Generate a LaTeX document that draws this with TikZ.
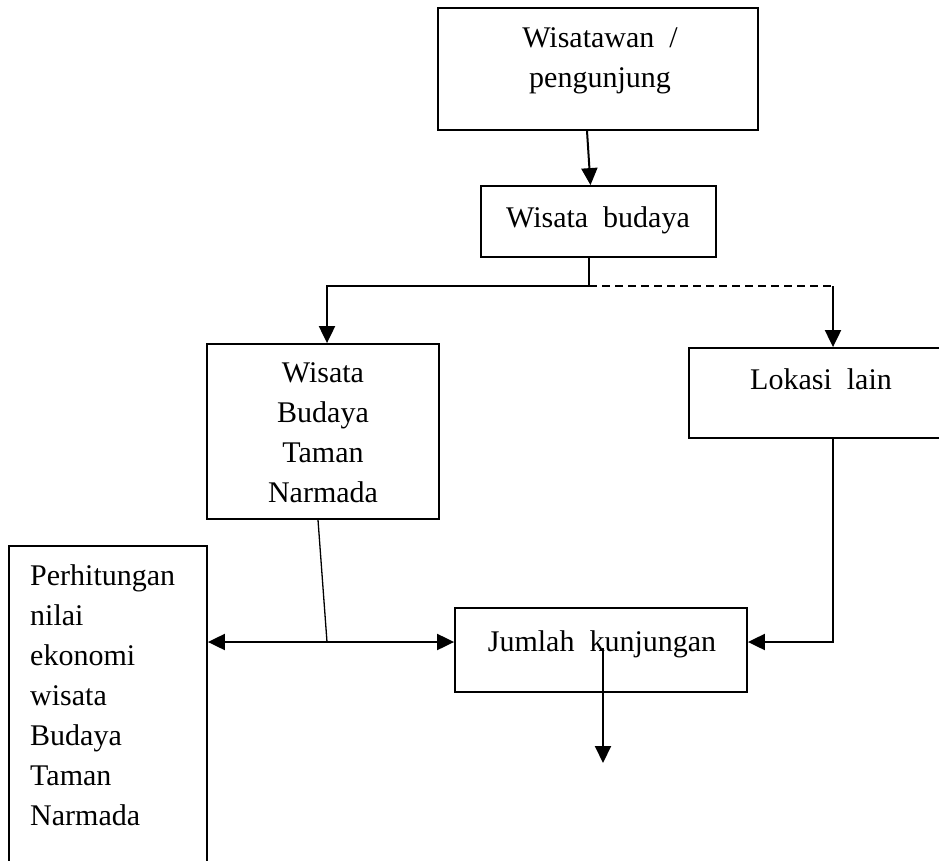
\documentclass[tikz,border=0pt]{standalone}
\usepackage{fontspec}
\setmainfont{Liberation Serif}
\usetikzlibrary{arrows.meta,calc}
\tikzset{
  box/.style={draw, line width=1.8pt, rectangle, inner sep=0pt},
  txt/.style={inner sep=0pt, font=\fontsize{30}{40}\selectfont},
  arr/.style={line width=2pt, -{Triangle[length=17pt,width=16pt]}},
  darr/.style={line width=2pt, {Triangle[length=17pt,width=16pt]}-{Triangle[length=17pt,width=16pt]}},
  plain/.style={line width=2pt},
  thinline/.style={line width=1.3pt},
  dashline/.style={line width=1.6pt, dash pattern=on 8pt off 5pt}
}
\begin{document}
\begin{tikzpicture}[x=1pt,y=-1pt]
\clip (0,0) rectangle (939,861);
\fill[white] (0,0) rectangle (939,861);
% boxes
\node[box, minimum width=320pt, minimum height=122pt] (top) at (598,69) {};
\node[box, minimum width=235pt, minimum height=71pt] (wb) at (598.5,221.5) {};
\node[box, minimum width=232pt, minimum height=175pt] (tn) at (323,431.5) {};
\node[box, minimum width=281pt, minimum height=90pt] (lok) at (829.5,393) {};
\node[box, minimum width=198pt, minimum height=354pt] (per) at (108,723) {};
\node[box, minimum width=292pt, minimum height=84pt] (jk) at (601,650) {};
% texts
\node[txt, align=center, anchor=north] (ttop) at (600,27) {Wisatawan \ /\\pengunjung};
\node[txt, anchor=base] (twb) at (598,227) {Wisata \ budaya};
\node[txt, align=center, anchor=north] (ttn) at (323,362) {Wisata\\Budaya\\Taman\\Narmada};
\node[txt, anchor=base] (tlok) at (821,389) {Lokasi \ lain};
\node[txt, align=left, anchor=north west] (tper) at (30,564) {Perhitungan\\nilai\\ekonomi\\wisata\\Budaya\\Taman\\Narmada};
\node[txt, anchor=base] (tjk) at (602,651) {Jumlah \ kunjungan};
% coordinates
\coordinate (sp) at (589,286);
\coordinate (dc) at (833,286);
\coordinate (mid) at (327,642);
\coordinate (out) at (603,763);
% connectors
\draw[arr] ([xshift=-11pt]top.south) -- ([xshift=-8pt]wb.north);
\draw[plain] (wb.south -| sp) -- (sp);
\draw[arr] (sp) -| ([xshift=4pt]tn.north);
\draw[dashline] (sp) -- (dc);
\draw[arr] (dc) -- (dc |- lok.north);
\draw[thinline] ([xshift=-5pt]tn.south) -- (mid);
\draw[darr] (per.east |- mid) -- (jk.west |- mid);
\draw[arr] (lok.south -| dc) |- (jk.east |- mid);
\draw[arr] ([xshift=2pt,yshift=2pt]jk.center) -- (out);
\end{tikzpicture}
\end{document}
